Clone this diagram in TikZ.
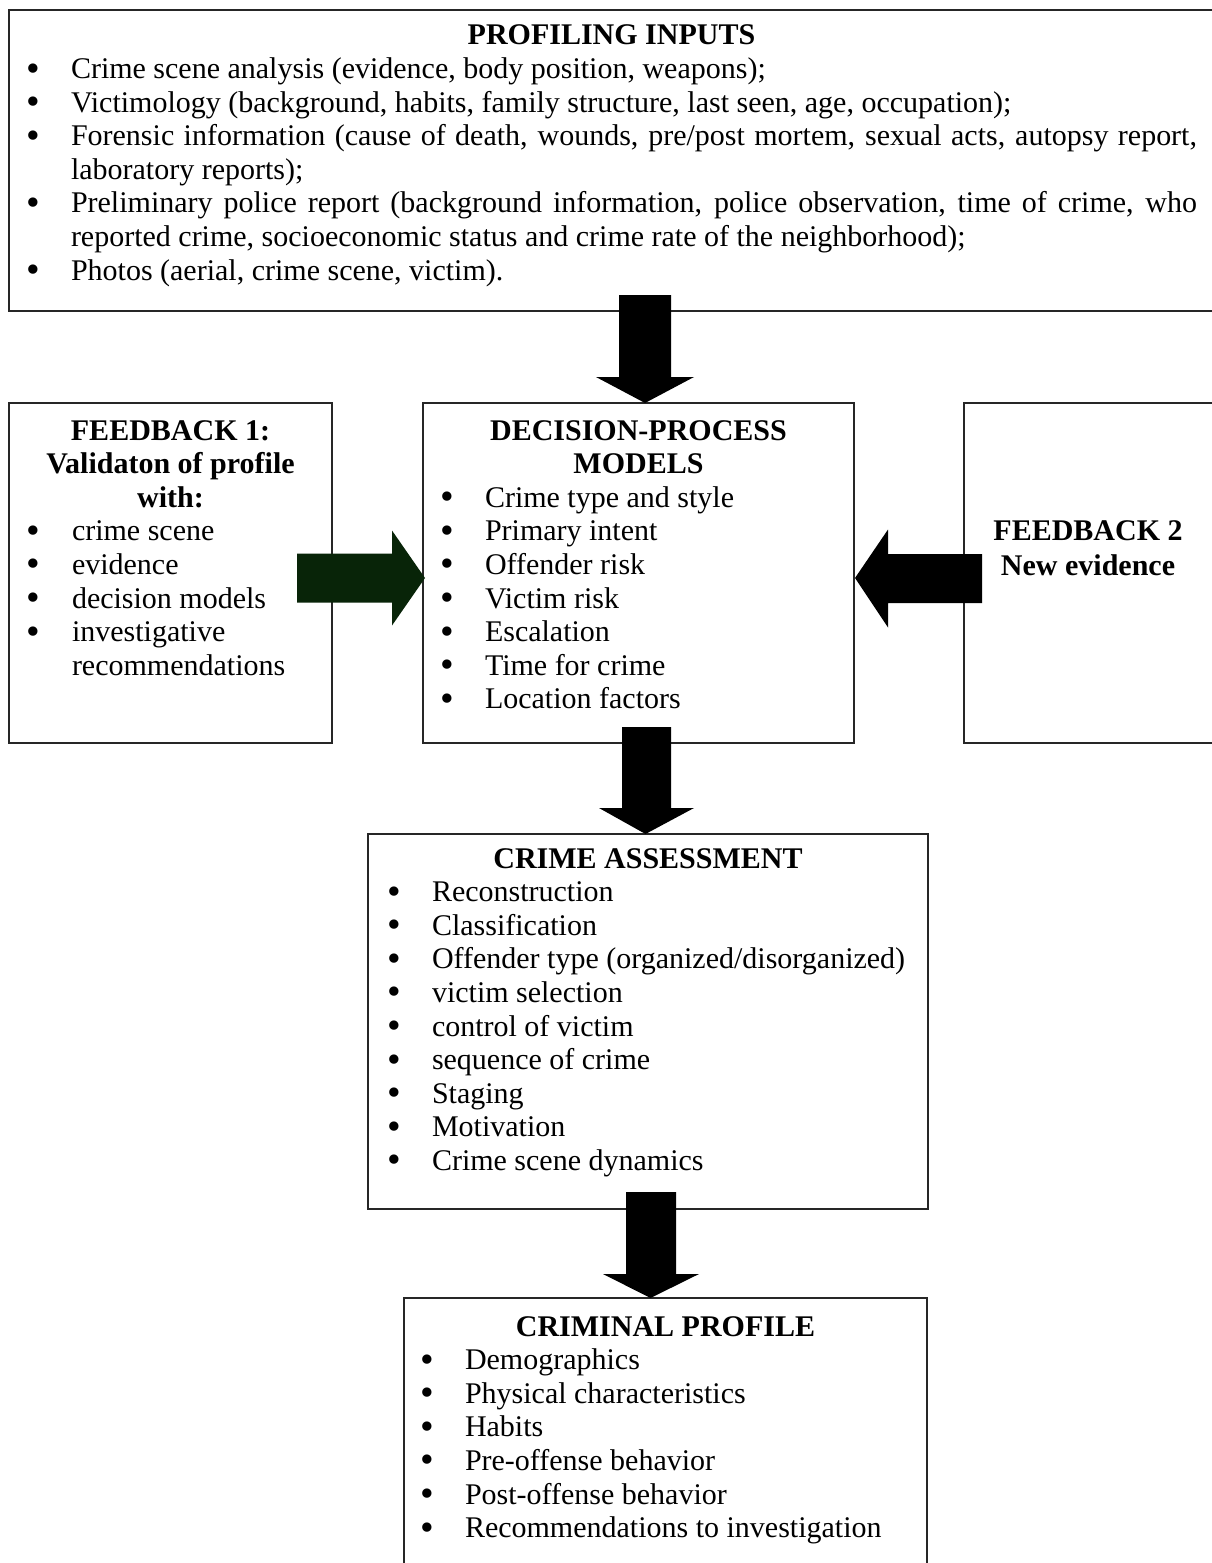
\documentclass[tikz,border=0pt]{standalone}
\usepackage{fontspec}
\setmainfont{Liberation Serif}
\usetikzlibrary{calc}
\definecolor{arrowgreen}{RGB}{8,36,8}
\newlength\bind \setlength\bind{45pt}
\newcommand\bulletmark{\raisebox{-2.5pt}{\scalebox{1.3}{\textbullet}}}
\newcommand\itm[1]{\par\hangindent=\bind\hangafter=1\noindent\makebox[\bind][l]{\bulletmark}#1}
\newcommand\hd[1]{{\centering\bfseries #1\par}}
\newcommand\txt{\fontsize{30}{33.6}\selectfont\parindent=0pt\parskip=0pt\emergencystretch=20pt}
\begin{document}
\begin{tikzpicture}[x=1pt,y=-1pt,
  box/.style={draw=black!85, line width=1.3pt, inner sep=0pt, outer sep=0pt, anchor=north west},
  txt/.style={anchor=base west, inner sep=0pt, outer sep=0pt},
  blockarrow/.style={fill=black, draw=none},
  greenarrow/.style={fill=arrowgreen, draw=none}]
\useasboundingbox (0,0) rectangle (1212,1563);
\clip (0,0) rectangle (1212,1563);
\fill[white] (0,0) rectangle (1212,1563);

% boxes
\node[box, minimum width=1225pt, minimum height=301pt] (inputs) at (9,10) {};
\node[box, minimum width=323pt, minimum height=340pt] (fb1) at (9,403) {};
\node[box, minimum width=431pt, minimum height=340pt] (dpm) at (423,403) {};
\node[box, minimum width=270pt, minimum height=340pt] (fb2) at (964,403) {};
\node[box, minimum width=560pt, minimum height=375pt] (ca) at (368,834) {};
\node[box, minimum width=523pt, minimum height=300pt] (cp) at (404,1298) {};

% texts
\node[txt] (inputs-t) at (26,45) {\parbox[t]{1171pt}{\txt
  \hd{PROFILING INPUTS}
  \itm{Crime scene analysis (evidence, body position, weapons);}
  \itm{Victimology (background, habits, family structure, last seen, age, occupation);}
  \itm{Forensic information (cause of death, wounds, pre/post mortem, sexual acts, autopsy report,\linebreak laboratory reports);}
  \itm{Preliminary police report (background information, police observation, time of crime, who\linebreak reported crime, socioeconomic status and crime rate of the neighborhood);}
  \itm{Photos (aerial, crime scene, victim).}}};

\node[txt] (fb1-t) at (27,440) {\parbox[t]{287pt}{\txt
  \hd{FEEDBACK 1:\\Validaton of profile\\with:}
  \itm{crime scene}
  \itm{evidence}
  \itm{decision models}
  \itm{investigative\newline recommendations}}};

\node[txt] (dpm-t) at (440,440) {\parbox[t]{397pt}{\txt
  \hd{DECISION-PROCESS\\MODELS}
  \itm{Crime type and style}
  \itm{Primary intent}
  \itm{Offender risk}
  \itm{Victim risk}
  \itm{Escalation}
  \itm{Time for crime}
  \itm{Location factors}}};

\node[anchor=base, inner sep=0pt] (fb2-t) at (1088,540) {\parbox[t]{240pt}{\txt\centering\bfseries
  \baselineskip=35pt FEEDBACK 2\\New evidence\par}};

\node[txt] (ca-t) at (387,868) {\parbox[t]{522pt}{\txt
  \hd{CRIME ASSESSMENT}
  \itm{Reconstruction}
  \itm{Classification}
  \itm{Offender type (organized/disorganized)}
  \itm{victim selection}
  \itm{control of victim}
  \itm{sequence of crime}
  \itm{Staging}
  \itm{Motivation}
  \itm{Crime scene dynamics}}};

\node[txt] (cp-t) at (420,1336) {\parbox[t]{491pt}{\txt
  \hd{CRIMINAL PROFILE}
  \itm{Demographics}
  \itm{Physical characteristics}
  \itm{Habits}
  \itm{Pre-offense behavior}
  \itm{Post-offense behavior}
  \itm{Recommendations to investigation}}};

% block arrows
% inputs -> dpm
\fill[blockarrow] ($(dpm.north)+(6.5,0)$) -- ++(49,-26) -- ++(-23,0) -- ++(0,-82)
  -- ++(-52,0) -- ++(0,82) -- ++(-23,0) -- cycle;
% dpm -> ca
\fill[blockarrow] ($(ca.north)+(-2.5,0)$) -- ++(48.5,-26) -- ++(-23,0) -- ++(0,-81)
  -- ++(-49,0) -- ++(0,81) -- ++(-23,0) -- cycle;
% ca -> cp
\fill[blockarrow] ($(cp.north)+(-15,0)$) -- ++(48.5,-24) -- ++(-23,0) -- ++(0,-82)
  -- ++(-50,0) -- ++(0,82) -- ++(-23,0) -- cycle;
% fb1 -> dpm
\fill[greenarrow] ($(dpm.west)+(2,5)$) -- ++(-33,-47.5) -- ++(0,23) -- ++(-95,0)
  -- ++(0,49) -- ++(95,0) -- ++(0,23) -- cycle;
% fb2 -> dpm
\fill[blockarrow] ($(dpm.east)+(1,5)$) -- ++(33,-48.5) -- ++(0,24.5) -- ++(94,0)
  -- ++(0,49) -- ++(-94,0) -- ++(0,24.5) -- cycle;
\end{tikzpicture}
\end{document}
